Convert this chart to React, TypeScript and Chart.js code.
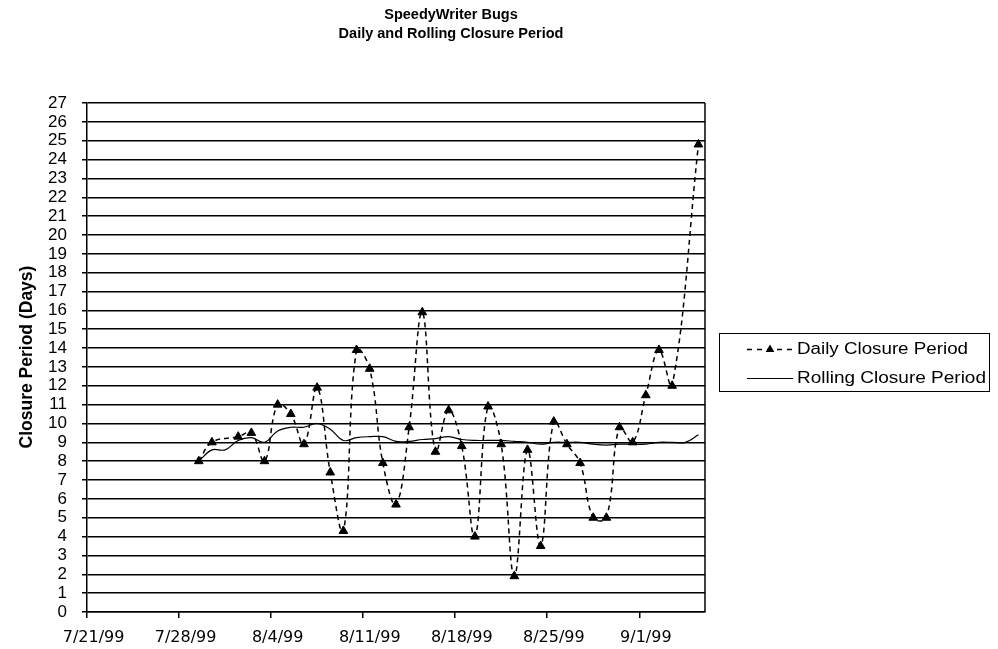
import { useEffect, useRef } from "react";
import { Chart, registerables } from "chart.js";

Chart.register(...registerables);

// Closure dates (one entry per calendar day)
const closeDates = [
  "7/29/99", "7/30/99", "7/31/99",
  "8/1/99", "8/2/99", "8/3/99", "8/4/99", "8/5/99", "8/6/99", "8/7/99",
  "8/8/99", "8/9/99", "8/10/99", "8/11/99", "8/12/99", "8/13/99", "8/14/99",
  "8/15/99", "8/16/99", "8/17/99", "8/18/99", "8/19/99", "8/20/99", "8/21/99",
  "8/22/99", "8/23/99", "8/24/99", "8/25/99", "8/26/99", "8/27/99", "8/28/99",
  "8/29/99", "8/30/99", "8/31/99",
  "9/1/99", "9/2/99", "9/3/99", "9/4/99", "9/5/99",
];

// Average days to close for bugs closed on each date (null = none closed)
const dailyClosure: (number | null)[] = [
  8, 9, null,
  9.3, 9.5, 8, 11, 10.5, 8.9, 11.9,
  7.4, 4.3, 13.9, 12.9, 7.9, 5.7, 9.8,
  15.9, 8.5, 10.7, 8.8, 4, 10.9, 8.9,
  1.9, 8.6, 3.5, 10.1, 8.9, 7.9, 5,
  5, 9.8, 9,
  11.5, 13.9, 12, null, 24.8,
];

// Rolling (cumulative) average closure period
const rollingClosure: number[] = [
  8, 8.6, 8.6,
  9.1, 9.25, 9.0, 9.6, 9.8, 9.8, 10.0,
  9.7, 9.1, 9.25, 9.3, 9.3, 9.05, 9.05,
  9.15, 9.2, 9.3, 9.15, 9.1, 9.1, 9.1,
  9.05, 9.0, 8.9, 9.0, 9.0, 9.0, 8.9,
  8.85, 8.9, 8.9,
  8.9, 9.0, 9.0, 9.0, 9.4,
];

const xTickLabels = ["7/21/99", "7/28/99", "8/4/99", "8/11/99", "8/18/99", "8/25/99", "9/1/99"];
const axisStart = "7/21/99";
const axisDays = 47;
const yMax = 27;

const titleLines = ["SpeedyWriter Bugs", "Daily and Rolling Closure Period"];
const yTitle = "Closure Period (Days)";
const dailyLabel = "Daily Closure Period";
const rollingLabel = "Rolling Closure Period";

const FONT = "'Liberation Sans', Arial, sans-serif";
const NARROW = "'Liberation Sans Narrow', 'Liberation Sans', Arial, sans-serif";
const WIDE = "'DejaVu Sans', 'Liberation Sans', sans-serif";

function dayNumber(s: string): number {
  const [m, d, y] = s.split("/").map(Number);
  return Date.UTC(1900 + y, m - 1, d) / 86400000;
}

// each date sits in the middle of its one-day slot
function slotCenter(s: string): number {
  return dayNumber(s) - dayNumber(axisStart) + 0.5;
}

function drawTriangle(ctx: CanvasRenderingContext2D, x: number, y: number, r: number) {
  ctx.beginPath();
  for (let i = 0; i < 3; i++) {
    const a = (i * 2 * Math.PI) / 3;
    const px = x + Math.sin(a) * r;
    const py = y - Math.cos(a) * r;
    if (i === 0) ctx.moveTo(px, py);
    else ctx.lineTo(px, py);
  }
  ctx.closePath();
  ctx.fill();
}

// text squeezed or stretched horizontally to a given width
function fitText(ctx: CanvasRenderingContext2D, text: string, x: number, y: number, width: number) {
  const w = ctx.measureText(text).width;
  ctx.save();
  ctx.translate(x, y);
  ctx.scale(width / w, 1);
  ctx.fillText(text, 0, 0);
  ctx.restore();
}

const decorations = {
  id: "decorations",
  afterDraw(chart: Chart) {
    const { ctx, chartArea } = chart;
    ctx.save();

    // right frame edge of the plot area
    ctx.strokeStyle = "#000";
    ctx.lineWidth = 1.5;
    ctx.beginPath();
    ctx.moveTo(Math.round(chartArea.right), chartArea.top);
    ctx.lineTo(Math.round(chartArea.right), chartArea.bottom);
    ctx.stroke();

    // title
    ctx.fillStyle = "#000";
    ctx.textAlign = "center";
    ctx.textBaseline = "middle";
    ctx.font = `bold 14.5px ${FONT}`;
    ctx.fillText(titleLines[0], 451, 15);
    ctx.fillText(titleLines[1], 451, 34);

    // y-axis title
    ctx.save();
    ctx.translate(27, 357);
    ctx.rotate(-Math.PI / 2);
    ctx.font = `bold 17.5px ${FONT}`;
    ctx.fillText(yTitle, 0, 0);
    ctx.restore();

    // legend box
    const bx = 719.5, by = 333.5, bw = 270, bh = 58;
    ctx.lineWidth = 1;
    ctx.fillStyle = "#fff";
    ctx.fillRect(bx, by, bw, bh);
    ctx.strokeStyle = "#000";
    ctx.strokeRect(bx, by, bw, bh);

    const r1 = 349.5, r2 = 378.5;
    ctx.lineWidth = 1.5;
    ctx.setLineDash([5, 5]);
    ctx.beginPath();
    ctx.moveTo(747, r1);
    ctx.lineTo(793, r1);
    ctx.stroke();
    ctx.setLineDash([]);
    ctx.fillStyle = "#000";
    drawTriangle(ctx, 770, r1, 5);

    ctx.lineWidth = 1.2;
    ctx.beginPath();
    ctx.moveTo(747, r2);
    ctx.lineTo(793, r2);
    ctx.stroke();

    ctx.textAlign = "left";
    ctx.font = `16px ${FONT}`;
    fitText(ctx, dailyLabel, 797, r1, 171);
    fitText(ctx, rollingLabel, 797, r2, 189);

    ctx.restore();
  },
};

export default function App() {
  const canvasRef = useRef<HTMLCanvasElement | null>(null);

  useEffect(() => {
    const canvas = canvasRef.current;
    if (!canvas) return;

    const xs = closeDates.map(slotCenter);
    const dailyPoints = xs.map((x, i) => ({ x, y: dailyClosure[i] }));
    const rollingPoints = xs.map((x, i) => ({ x, y: rollingClosure[i] }));

    const chart = new Chart(canvas, {
      type: "line",
      data: {
        datasets: [
          {
            label: dailyLabel,
            data: dailyPoints as any,
            borderColor: "#000",
            borderWidth: 1.5,
            borderDash: [5, 4],
            pointStyle: "triangle",
            pointRadius: 5,
            pointBackgroundColor: "#000",
            pointBorderColor: "#000",
            pointBorderWidth: 1,
            tension: 0.4,
            spanGaps: true,
          },
          {
            label: rollingLabel,
            data: rollingPoints as any,
            borderColor: "#000",
            borderWidth: 1.2,
            pointRadius: 0,
            tension: 0.4,
          },
        ],
      },
      options: {
        animation: false,
        responsive: false,
        devicePixelRatio: 1,
        layout: { padding: { left: 0, top: 103, right: 293, bottom: 0 } },
        plugins: {
          legend: { display: false },
          title: { display: false },
          tooltip: { enabled: false },
        },
        scales: {
          x: {
            type: "linear",
            min: 0,
            max: axisDays,
            afterFit: (s: any) => {
              s.height = 37;
            },
            border: { display: true, color: "#000", width: 1.5 },
            grid: { drawOnChartArea: false, drawTicks: true, tickLength: 6, color: "#000", lineWidth: 1.5 },
            ticks: {
              stepSize: 7,
              includeBounds: false,
              autoSkip: false,
              maxRotation: 0,
              labelOffset: 6.6,
              padding: 10,
              color: "#000",
              font: { family: WIDE, size: 16 },
              callback: (v: any) => (Number(v) % 7 === 0 ? xTickLabels[Number(v) / 7] ?? "" : ""),
            },
          },
          y: {
            min: 0,
            max: yMax,
            afterFit: (s: any) => {
              s.width = 87;
            },
            border: { display: true, color: "#000", width: 1.5 },
            grid: { color: "#000", lineWidth: 1.5, tickLength: 5 },
            ticks: {
              stepSize: 1,
              autoSkip: false,
              padding: 15,
              color: "#000",
              font: { family: NARROW, size: 17 },
            },
          },
        },
      },
      plugins: [decorations],
    });

    return () => chart.destroy();
  }, []);

  return (
    <div style={{ position: "fixed", left: 0, top: 0, width: 998, height: 649, background: "#fff" }}>
      <canvas ref={canvasRef} width={998} height={649} style={{ width: 998, height: 649 }} />
    </div>
  );
}
